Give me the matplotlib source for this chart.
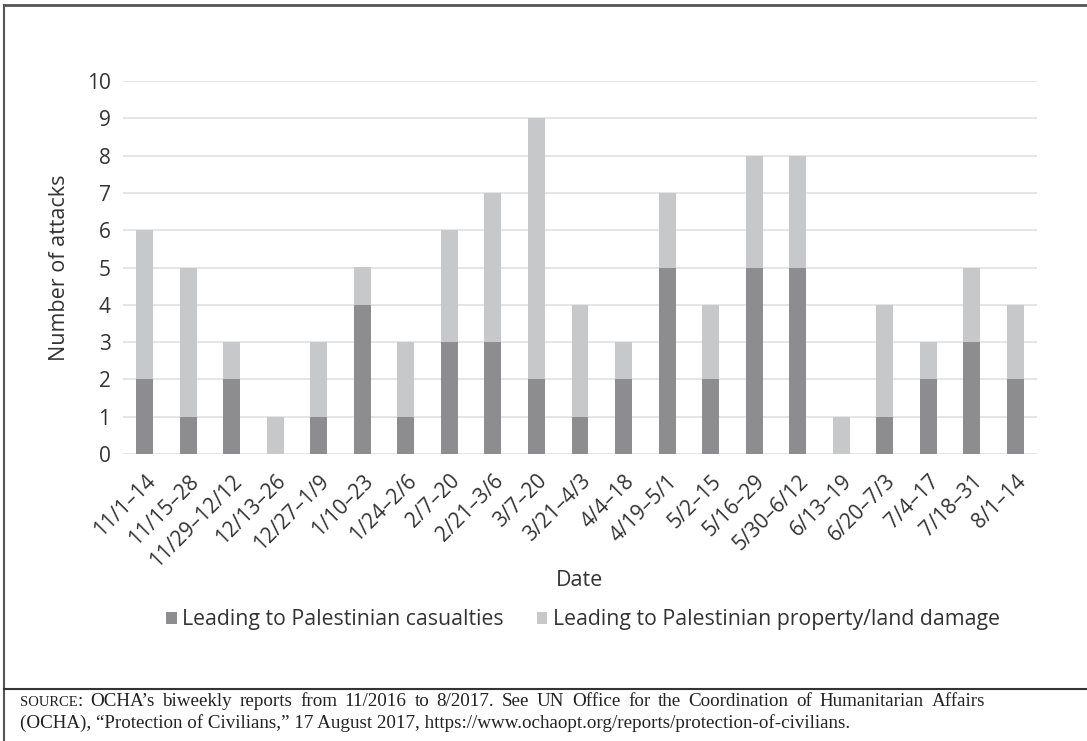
import matplotlib
matplotlib.use("Agg")
from matplotlib import pyplot as plt
from matplotlib.lines import Line2D
import numpy as np

# biweekly periods, 11/2016 - 8/2017
periods = ["11/1–14", "11/15–28", "11/29–12/12", "12/13–26", "12/27–1/9",
           "1/10–23", "1/24–2/6", "2/7–20", "2/21–3/6", "3/7–20", "3/21–4/3",
           "4/4–18", "4/19–5/1", "5/2–15", "5/16–29", "5/30–6/12", "6/13–19",
           "6/20–7/3", "7/4–17", "7/18–31", "8/1–14"]
casualties = [2, 1, 2, 0, 1, 4, 1, 3, 3, 2, 1, 2, 5, 2, 5, 5, 0, 1, 2, 3, 2]
property_damage = [4, 4, 1, 1, 2, 1, 2, 3, 4, 7, 3, 1, 2, 2, 3, 3, 1, 3, 1, 2, 2]

source_line1 = "OCHA’s biweekly reports from 11/2016 to 8/2017. See UN Office for the Coordination of Humanitarian Affairs"
source_line2 = "(OCHA), “Protection of Civilians,” 17 August 2017, https://www.ochaopt.org/reports/protection-of-civilians."

dark = "#8d8d90"
light = "#c7c8ca"
txt = "#333333"

plt.rcParams['font.family'] = ['Open Sans', 'DejaVu Sans']

W, H = 1087, 741
fig = plt.figure(figsize=(W / 100, H / 100), dpi=100)
ax = fig.add_axes([123 / W, 1 - 454 / H, (1037 - 123) / W, (454 - 81) / H])

x = np.arange(len(periods))
ax.bar(x, casualties, width=0.39, color=dark, zorder=3,
       label="Leading to Palestinian casualties")
ax.bar(x, property_damage, width=0.39, bottom=casualties, color=light, zorder=3,
       label="Leading to Palestinian property/land damage")

ax.set_xlim(-0.5, len(periods) - 0.5)
ax.set_ylim(0, 10)
ax.set_yticks(range(0, 11))
ax.yaxis.grid(True, color="#e3e3e3", linewidth=1.3, zorder=0)
for s in ax.spines.values():
    s.set_visible(False)
ax.tick_params(axis='both', length=0, labelsize=15, labelcolor=txt)
ax.tick_params(axis='y', pad=9)
ax.set_xticks(x)
ax.set_xticklabels(periods, rotation=45, ha='right', rotation_mode='anchor')
ax.tick_params(axis='x', pad=12)

ax.set_ylabel("Number of attacks", fontsize=15.5, color=txt, labelpad=12)
fig.text(580 / W, 1 - 580 / H, "Date", fontsize=15.5, color=txt,
         ha='center', va='center')

fig.legend(loc='center', bbox_to_anchor=(583 / W, 1 - 620 / H), ncol=2,
           frameon=False, fontsize=15.3, handlelength=0.5, handleheight=0.5,
           handletextpad=0.25, columnspacing=1.55, labelcolor=txt)

# frame lines around the chart area
fig.add_artist(Line2D([4 / W, 1], [1 - 5 / H, 1 - 5 / H], color="#555555", lw=2))
fig.add_artist(Line2D([4 / W, 4 / W], [0, 1 - 5 / H], color="#555555", lw=1.5))
fig.add_artist(Line2D([4 / W, 1], [1 - 689 / H, 1 - 689 / H], color="#333333", lw=1.5))

# source note, "source" in small caps, first line justified
serif = ['Liberation Serif', 'DejaVu Serif']
ink = "#222222"
y1 = 1 - 706 / H
y2 = 1 - 728 / H
fig.canvas.draw()
r = fig.canvas.get_renderer()

sc = fig.text(20 / W, y1, "SOURCE", fontsize=10.5, family=serif, color=ink, va='baseline')
colon = fig.text(0, y1, ":", fontsize=13.7, family=serif, color=ink, va='baseline')
x0 = sc.get_window_extent(r).x1
colon.set_x(x0 / W)
x0 = x0 + colon.get_window_extent(r).width

words = source_line1.split(" ")
objs = [fig.text(0, y1, w, fontsize=13.7, family=serif, color=ink, va='baseline') for w in words]
widths = [o.get_window_extent(r).width for o in objs]
right = 985
gap = (right - x0 - sum(widths)) / len(words)
pos = x0 + gap
for o, w in zip(objs, widths):
    o.set_x(pos / W)
    pos += w + gap

fig.text(20 / W, y2, source_line2, fontsize=13.7, family=serif, color=ink, va='baseline')

fig.savefig("out.png", dpi=100)
